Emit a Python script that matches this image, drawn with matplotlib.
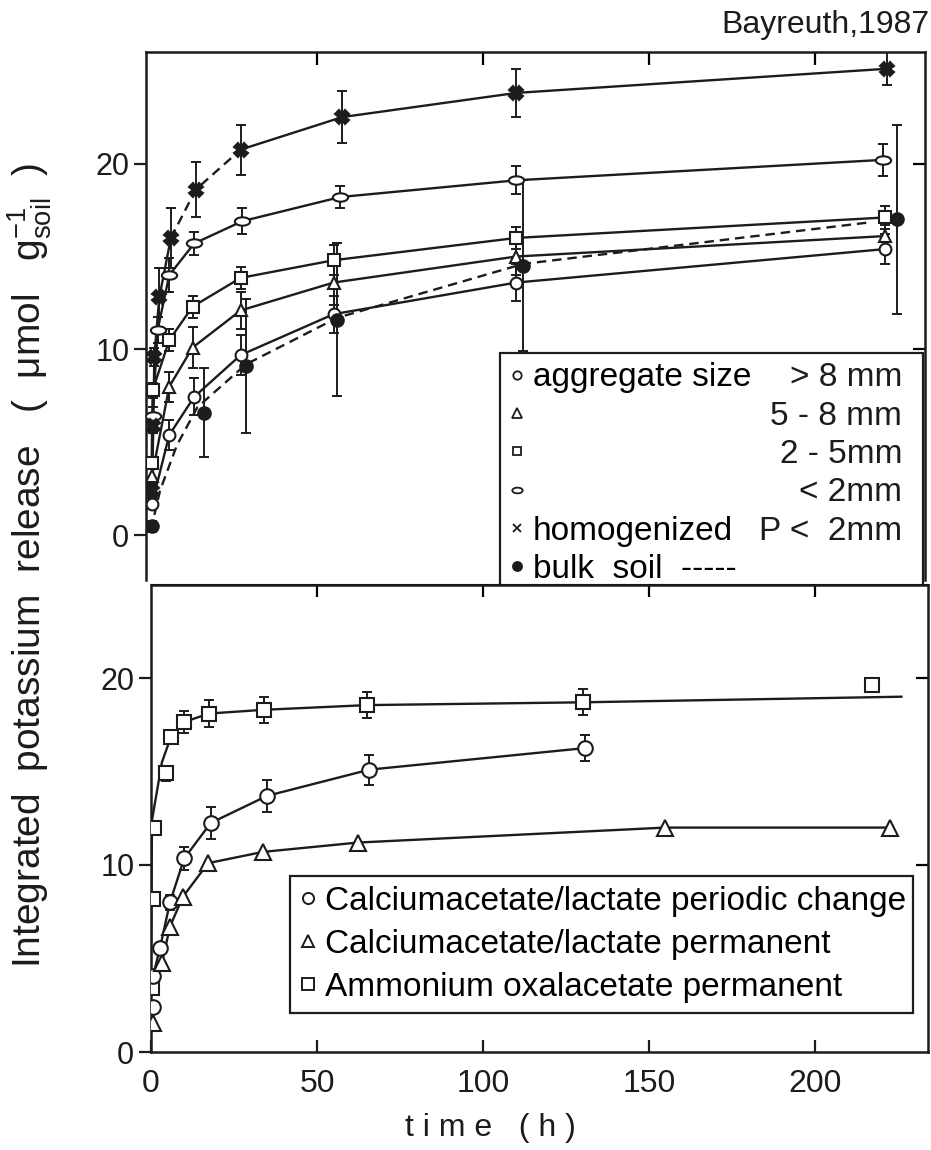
import matplotlib
matplotlib.use("Agg")
import matplotlib.pyplot as plt
from matplotlib.lines import Line2D
from matplotlib.path import Path
from matplotlib.transforms import Affine2D

plt.rcParams["font.family"] = ["Liberation Sans", "DejaVu Sans"]
plt.rcParams["mathtext.default"] = "regular"

INK = "#1c1c1c"

# ---- upper panel: aggregate size classes (t in h, K release in umol/g) ----
gt8_t = [0.3, 5.5, 13, 27, 55, 110, 221]
gt8_v = [1.7, 5.4, 7.45, 9.7, 11.9, 13.6, 15.4]
gt8_e = [0.3, 0.8, 1.0, 1.1, 1.0, 1.0, 0.8]

r58_t = [0.3, 5.5, 12.5, 27, 55, 110, 221]
r58_v = [3.2, 8.0, 10.1, 12.1, 13.6, 15.0, 16.1]
r58_e = [0.4, 0.8, 1.1, 1.0, 1.2, 1.0, 0.6]

r25_t = [0.2, 0.5, 5.5, 12.5, 27, 55, 110, 221]
r25_v = [3.9, 7.8, 10.5, 12.3, 13.85, 14.8, 16.0, 17.1]
r25_e = [0.3, 0.4, 0.6, 0.6, 0.6, 0.8, 0.6, 0.6]

lt2_t = [0.5, 2, 5.5, 13, 27.5, 57, 110, 220.5]
lt2_v = [6.4, 11.05, 14.0, 15.7, 16.9, 18.2, 19.1, 20.2]
lt2_e = [0.5, 0.7, 0.9, 0.6, 0.7, 0.6, 0.75, 0.85]

hom_t = [0.3, 0.7, 1, 2.5, 6, 13.5, 27, 57.6, 110, 221.7]
hom_v = [2.4, 5.9, 9.6, 12.8, 16.0, 18.6, 20.75, 22.5, 23.8, 25.1]
hom_e = [0.3, 0.4, 0.5, 1.6, 1.6, 1.5, 1.35, 1.4, 1.3, 0.9]

bulk_t = [0.3, 16, 28.6, 56, 112, 224.7]
bulk_v = [0.5, 6.6, 9.1, 11.6, 14.5, 17.0]
bulk_e = [0.3, 2.4, 3.6, 4.1, 4.6, 5.1]
bulk_fit_t = [0, 2.7, 7.8, 14, 28.6, 56, 112, 217]
bulk_fit_v = [0.3, 2.4, 4.85, 6.9, 9.2, 11.7, 14.6, 16.85]

# ---- lower panel: extraction solutions ----
amm_t = [0.25, 0.5, 1, 4.5, 6, 10, 17.5, 34, 65, 130, 217]
amm_v = [3.4, 8.2, 12.0, 14.9, 16.85, 17.65, 18.1, 18.3, 18.55, 18.7, 19.6]
amm_e = [0, 0, 0, 0.4, 0.35, 0.6, 0.7, 0.7, 0.7, 0.7, 0]
amm_fit_t = [0, 0.3, 3.3, 6, 10, 17.5, 34, 65, 130, 226]
amm_fit_v = [5.0, 12.4, 15.5, 16.85, 17.65, 18.1, 18.3, 18.55, 18.7, 19.0]

per_t = [0.6, 0.6, 2.7, 5.7, 10, 18, 35, 65.8, 130.6]
per_v = [2.4, 4.05, 5.55, 8.0, 10.35, 12.25, 13.7, 15.1, 16.25]
per_e = [0, 0, 0, 0.4, 0.6, 0.85, 0.85, 0.8, 0.7]

perm_t = [0.6, 3.3, 5.7, 9.6, 17.2, 33.7, 62.3, 154.8, 222.6]
perm_v = [1.55, 4.75, 6.7, 8.3, 10.1, 10.7, 11.2, 12.0, 12.0]

top_labels = ["aggregate size", " ", " ", " ", "homogenized", "bulk  soil  -----"]
top_right = ["> 8 mm", "5 - 8 mm", "2 - 5mm", "< 2mm", "P <  2mm"]
bot_labels = ["Calciumacetate/lactate periodic change",
              "Calciumacetate/lactate permanent",
              "Ammonium oxalacetate permanent"]

ellipse = Path.unit_circle().transformed(Affine2D().scale(1.0, 0.55))


def series(ax, t, v, e, marker, ms, fill="white", ls="-", curve=None, mew=1.5):
    if e is not None:
        ax.errorbar(t, v, yerr=e, fmt="none", ecolor=INK, elinewidth=1.4,
                    capsize=3.5, capthick=1.4, zorder=2)
    ct, cv = curve if curve is not None else (t, v)
    if ls is not None:
        ax.plot(ct, cv, color=INK, lw=1.7, ls=ls, zorder=1)
    ax.plot(t, v, ls="none", marker=marker, ms=ms, mfc=fill, mec=INK,
            mew=mew, zorder=3)


def frame(ax, yt):
    for s in ax.spines.values():
        s.set_linewidth(1.8)
        s.set_color(INK)
    ax.set_yticks(yt)
    ax.tick_params(axis="y", direction="out", length=9, width=1.6,
                   labelsize=22, pad=3, colors=INK)
    top = ax.secondary_xaxis("top")
    top.set_xticks([50, 100, 150, 200])
    top.tick_params(direction="in", length=9, width=1.6, labeltop=False)
    right = ax.secondary_yaxis("right")
    right.set_yticks([10, 20])
    right.tick_params(direction="in", length=9, width=1.6, labelright=False)


fig = plt.figure(figsize=(9.31, 11.5), dpi=100)
ax1 = fig.add_axes([146 / 931, 1 - 580 / 1150, 779 / 931, 528 / 1150])
ax2 = fig.add_axes([151 / 931, 1 - 1052 / 1150, 777 / 931, 467.5 / 1150])

# upper panel
series(ax1, gt8_t, gt8_v, gt8_e, "o", 8.5)
series(ax1, r58_t, r58_v, r58_e, "^", 9)
series(ax1, r25_t, r25_v, r25_e, "s", 8)
series(ax1, lt2_t, lt2_v, lt2_e, ellipse, 11)
series(ax1, hom_t, hom_v, hom_e, "X", 9.5, fill=INK, ls=None)
ax1.plot(hom_t[:5], hom_v[:5], color=INK, lw=1.7, zorder=1)
ax1.plot(hom_t[4:7], hom_v[4:7], color=INK, lw=1.7, ls=(0, (4, 2.5)), zorder=1)
ax1.plot(hom_t[6:], hom_v[6:], color=INK, lw=1.7, zorder=1)
series(ax1, bulk_t, bulk_v, bulk_e, "o", 9, fill=INK, ls=(0, (4, 2.5)),
       curve=(bulk_fit_t, bulk_fit_v))
ax1.set_xlim(-1.5, 233)
ax1.set_ylim(-2.4, 26.0)
frame(ax1, [0, 10, 20])
ax1.spines["bottom"].set_visible(False)
ax1.tick_params(axis="x", bottom=False, labelbottom=False)

h1 = [Line2D([], [], ls="none", marker=m, ms=s, mfc=f, mec=INK, mew=1.3)
      for m, s, f in [("o", 6, "white"), ("^", 6.5, "white"), ("s", 6, "white"),
                      (ellipse, 7.5, "white"), ("x", 6, "white"), ("o", 6.5, INK)]]
leg1 = ax1.legend(h1, top_labels, loc="upper left",
                  bbox_to_anchor=(500 / 931, 1 - 353 / 1150, 423 / 931, 0),
                  bbox_transform=fig.transFigure, mode="expand", borderaxespad=0,
                  fancybox=False, edgecolor=INK, framealpha=1, fontsize=24,
                  handlelength=0.45, handletextpad=0.25, labelspacing=0.22,
                  borderpad=0.28)
leg1.get_frame().set_linewidth(1.6)
leg1.set_zorder(5)

# lower panel
series(ax2, amm_t, amm_v, amm_e, "s", 10, curve=(amm_fit_t, amm_fit_v))
series(ax2, per_t, per_v, per_e, "o", 10.5, curve=(per_t[1:], per_v[1:]))
series(ax2, perm_t, perm_v, None, "^", 11, curve=(perm_t[1:], perm_v[1:]))
ax2.set_xlim(0, 234)
ax2.set_ylim(0, 25)
frame(ax2, [0, 10, 20])
ax2.set_xticks([0, 50, 100, 150, 200])
ax2.tick_params(axis="x", direction="in", length=9, width=1.6, labelsize=23,
                pad=12, colors=INK)

h2 = [Line2D([], [], ls="none", marker=m, ms=8, mfc="white", mec=INK, mew=1.4)
      for m in ["o", "^", "s"]]
leg2 = ax2.legend(h2, bot_labels, loc="upper left",
                  bbox_to_anchor=(290 / 931, 1 - 876 / 1150, 623 / 931, 0),
                  bbox_transform=fig.transFigure, mode="expand", borderaxespad=0,
                  fancybox=False, edgecolor=INK, framealpha=1, fontsize=24,
                  handlelength=0.45, handletextpad=0.3, labelspacing=0.36,
                  borderpad=0.3)
leg2.get_frame().set_linewidth(1.6)

fig.canvas.draw()
H = fig.bbox.height
for txt, lab in zip(leg1.get_texts(), top_right):
    bb = txt.get_window_extent()
    fig.text(902 / 931, (bb.y0 + bb.y1) / 2 / H, lab, ha="right", va="center",
             fontsize=24, color=INK, zorder=10)

fig.text(929 / 931, 1 - 25 / 1150, "Bayreuth,1987", ha="right", va="center",
         fontsize=23, color=INK)
fig.text(30 / 931, 1 - 565 / 1150,
         r"Integrated  potassium  release   (  $\mu$mol   $g_{soil}^{-1}$  )",
         rotation=90, ha="center", va="center", fontsize=28, color=INK)
fig.text(490 / 931, 1 - 1128 / 1150, "t i m e   ( h )", ha="center", va="center",
         fontsize=23, color=INK)

fig.savefig("out.png", dpi=100)
